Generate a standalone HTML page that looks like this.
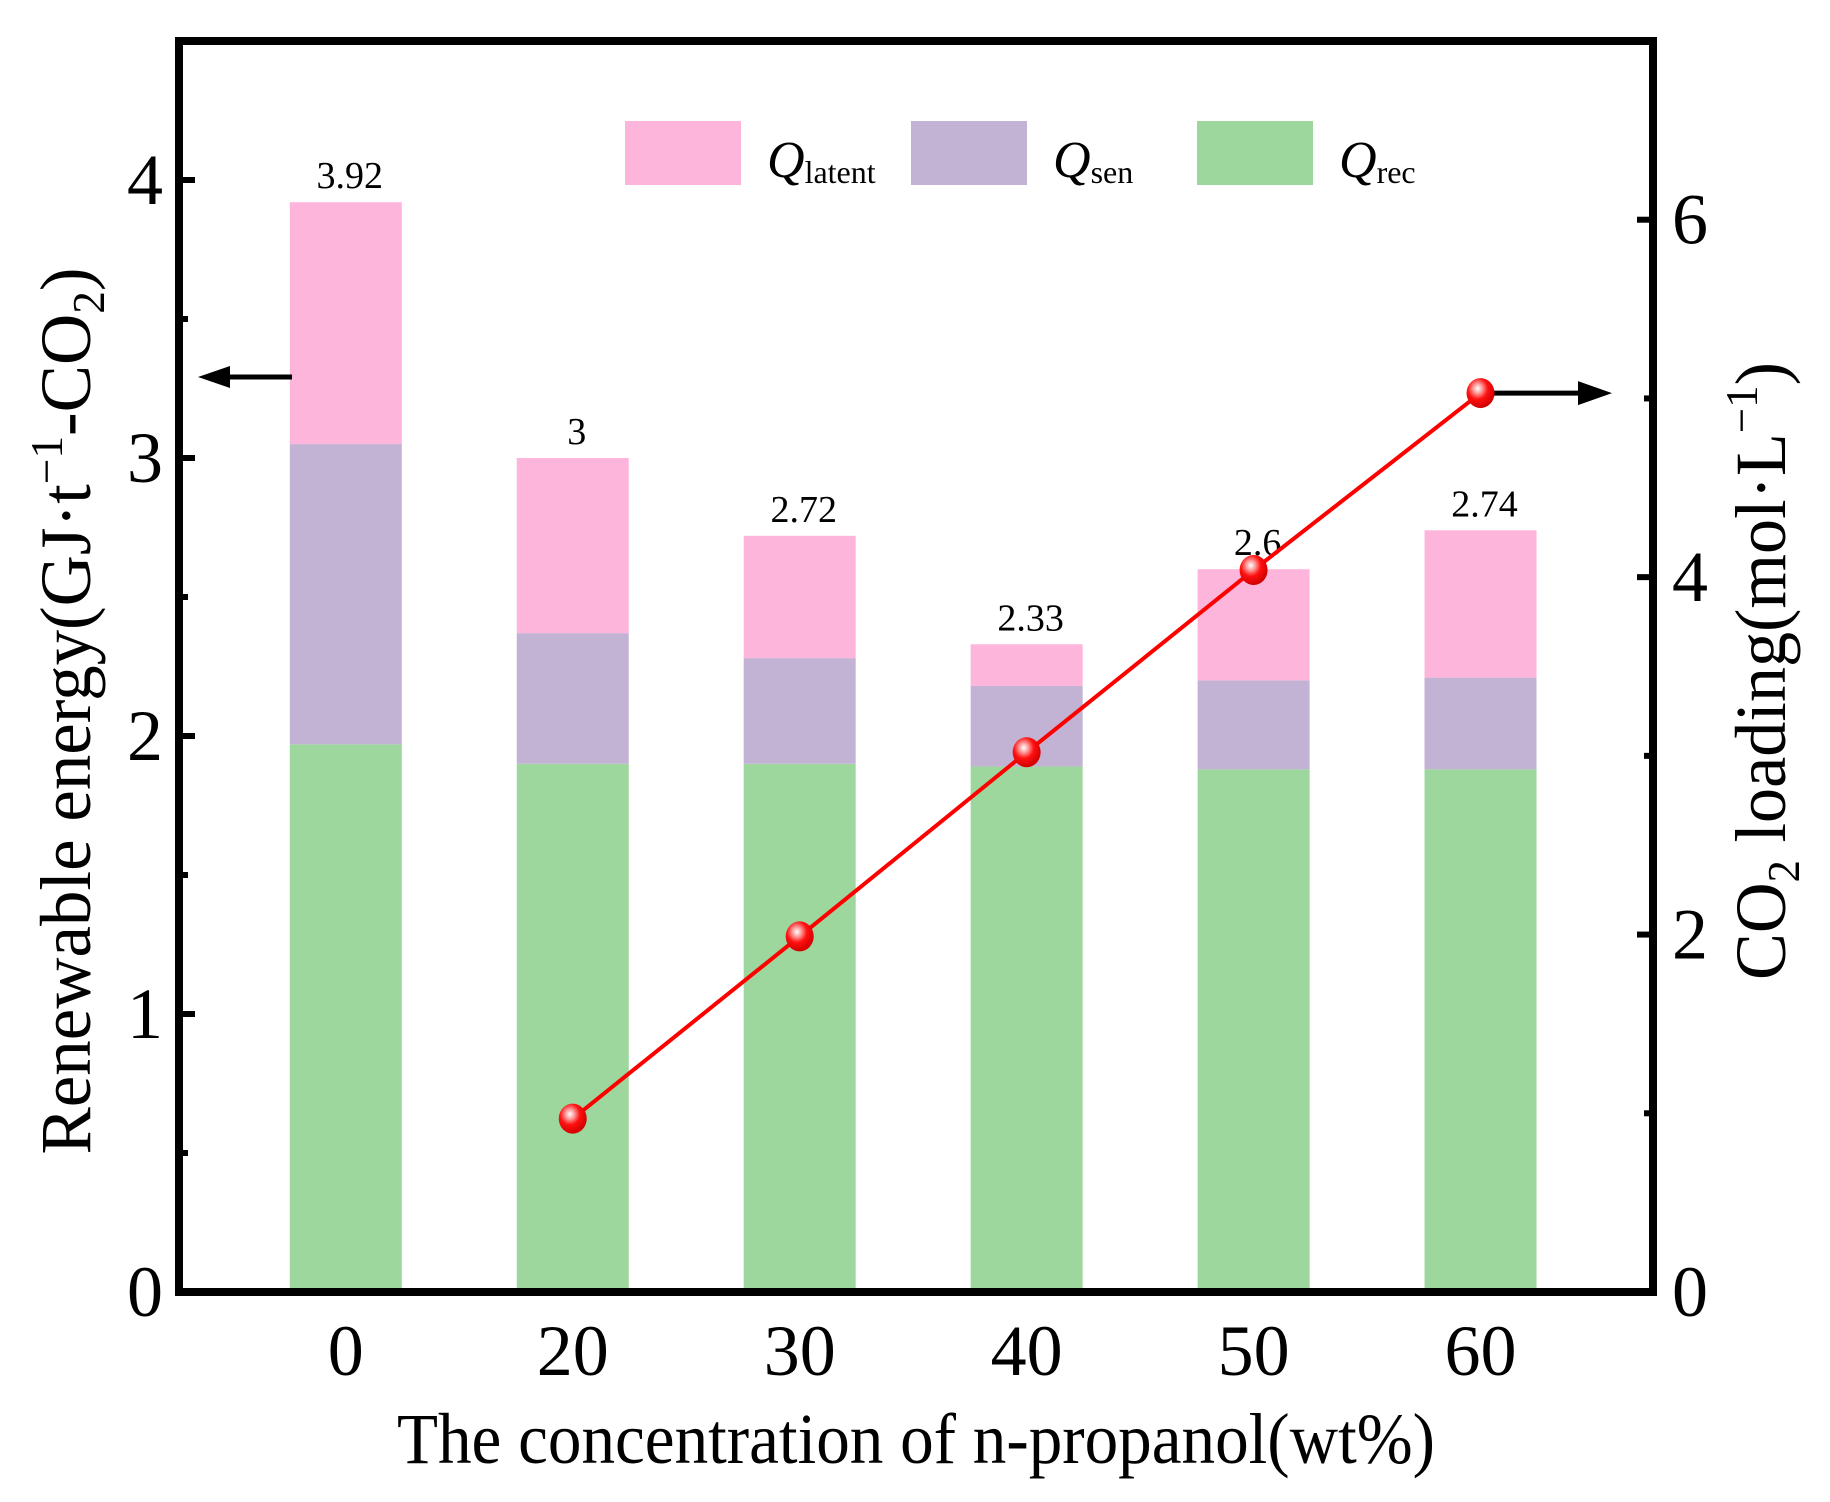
<!DOCTYPE html>
<html><head><meta charset="utf-8"><style>
html,body{margin:0;padding:0;background:#fff;}
svg{display:block;font-family:"Liberation Serif",serif;}
</style></head><body>
<svg id="chart" width="1830" height="1502" viewBox="0 0 1830 1502">
<defs>
<radialGradient id="ball" cx="0.4" cy="0.35" r="0.65">
<stop offset="0" stop-color="#ffffff"/><stop offset="0.25" stop-color="#ff9a9a"/><stop offset="0.55" stop-color="#ff1010"/><stop offset="1" stop-color="#d00000"/>
</radialGradient>
</defs>
<g id="bars"></g>
<g id="labels"></g>
<g id="line"></g>
<g id="axes"></g>
<g>
<rect x="625" y="121" width="116" height="64" fill="#fdb5db"/>
<text x="767" y="177" font-size="52" font-style="italic">Q<tspan font-size="32" font-style="normal" dy="6">latent</tspan></text>
<rect x="911" y="121" width="116" height="64" fill="#c2b3d5"/>
<text x="1053" y="177" font-size="52" font-style="italic">Q<tspan font-size="32" font-style="normal" dy="6">sen</tspan></text>
<rect x="1197" y="121" width="116" height="64" fill="#9ed79d"/>
<text x="1339" y="177" font-size="52" font-style="italic">Q<tspan font-size="32" font-style="normal" dy="6">rec</tspan></text>
</g>
<text x="916" y="1463" font-size="72" text-anchor="middle" textLength="1038" lengthAdjust="spacingAndGlyphs">The concentration of n-propanol(wt%)</text>
<text transform="translate(90,711) rotate(-90)" font-size="72" text-anchor="middle" textLength="887" lengthAdjust="spacingAndGlyphs">Renewable energy(GJ·t<tspan font-size="46" dy="-28">−1</tspan><tspan dy="28">-CO</tspan><tspan font-size="46" dy="14">2</tspan><tspan dy="-14">)</tspan></text>
<text transform="translate(1785,671) rotate(-90)" font-size="72" text-anchor="middle" textLength="618" lengthAdjust="spacingAndGlyphs">CO<tspan font-size="46" dy="14">2</tspan><tspan dy="-14"> loading(mol·L</tspan><tspan font-size="46" dy="-28">−1</tspan><tspan dy="28">)</tspan></text>
<g>
<line x1="292" y1="377" x2="225" y2="377" stroke="#000" stroke-width="5"/>
<polygon points="198,377 230,366 230,388" fill="#000"/>
</g>
</svg>
<script>
const categories = ["0","20","30","40","50","60"];
const qRec = [1.97, 1.90, 1.90, 1.89, 1.88, 1.88];
const qSenTop = [3.05, 2.37, 2.28, 2.18, 2.20, 2.21];
const qTotal = [3.92, 3.00, 2.72, 2.33, 2.60, 2.74];
const totalLabels = ["3.92","3","2.72","2.33","2.6","2.74"];
const loadingCats = [1,2,3,4,5];
const loadingVals = [0.97, 1.99, 3.02, 4.04, 5.03];
const leftTicks = [0,1,2,3,4];
const rightTicks = [0,2,4,6];

const NS = "http://www.w3.org/2000/svg";
const L = 179, R = 1653, T = 41, B = 1292;
const xMin = -0.735, xMax = 5.76;
const x = i => L + (i - xMin) / (xMax - xMin) * (R - L);
const yL = v => B - v / 4.5 * (B - T);
const yR = v => B - v / 7 * (B - T);
function mk(tag, attrs, parent){const e=document.createElementNS(NS,tag);for(const k in attrs)e.setAttribute(k,attrs[k]);parent.appendChild(e);return e;}
const bars=document.getElementById('bars'), labels=document.getElementById('labels'), line=document.getElementById('line'), axes=document.getElementById('axes');
const bw = 112;
categories.forEach((c,i)=>{
  const cx=x(i);
  const segs=[[0,qRec[i],'#9ed79d','rec'],[qRec[i],qSenTop[i],'#c2b3d5','sen'],[qSenTop[i],qTotal[i],'#fdb5db','latent']];
  segs.forEach(s=>{
    const r=mk('rect',{x:cx-bw/2,y:yL(s[1]),width:bw,height:yL(s[0])-yL(s[1]),fill:s[2]},bars);
    
    
  });
  const t=mk('text',{x:cx+4,y:yL(qTotal[i])-14,'font-size':38,'text-anchor':'middle'},labels);
  t.textContent=totalLabels[i];
  
  
  const xl=mk('text',{x:cx,y:1375,'font-size':72,'text-anchor':'middle'},axes);
  xl.textContent=c;
  
  
});
// line
const pts=loadingCats.map((c,k)=>x(c)+','+yR(loadingVals[k])).join(' ');
const pl=mk('polyline',{points:pts,fill:'none',stroke:'#ff0000','stroke-width':4},line);


// right arrow
const lastX=x(loadingCats[4]), lastY=yR(loadingVals[4]);
const ra=mk('line',{x1:lastX,y1:lastY,x2:1585,y2:lastY,stroke:'#000','stroke-width':5},line);


const rh=mk('polygon',{points:`1612,${lastY} 1578,${lastY-12} 1578,${lastY+12}`,fill:'#000'},line);


loadingCats.forEach((c,k)=>{
  const m=mk('ellipse',{cx:x(c),cy:yR(loadingVals[k]),rx:14,ry:15,fill:'url(#ball)'},line);
  
  
});
// frame
const fr=mk('rect',{x:L,y:T,width:R-L,height:B-T,fill:'none',stroke:'#000','stroke-width':8},axes);


for(let v=0;v<=4.5;v+=0.5){
  const major=Number.isInteger(v);
  const tk=mk('line',{x1:L,x2:L+(major?16:9),y1:yL(v),y2:yL(v),stroke:'#000','stroke-width':6},axes);
  
  
}
leftTicks.forEach(v=>{
  const t=mk('text',{x:163,y:yL(v)+24,'font-size':72,'text-anchor':'end'},axes);
  t.textContent=v;
  
  
});
for(let v=0;v<=7;v+=1){
  const major=v%2===0;
  const tk=mk('line',{x1:R,x2:R-(major?16:9),y1:yR(v),y2:yR(v),stroke:'#000','stroke-width':6},axes);
  
  
}
rightTicks.forEach(v=>{
  const t=mk('text',{x:1672,y:yR(v)+24,'font-size':72,'text-anchor':'start'},axes);
  t.textContent=v;
  
  
});
</script>
</body></html>
